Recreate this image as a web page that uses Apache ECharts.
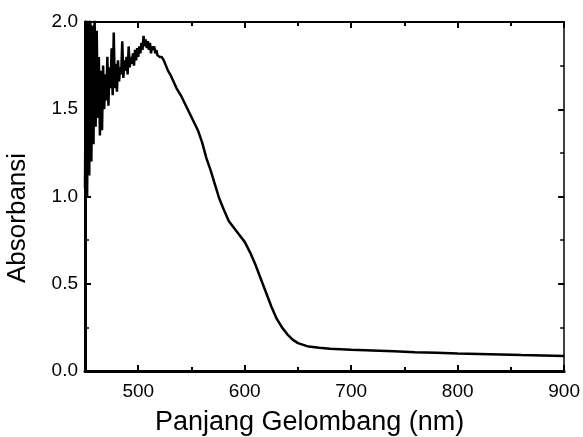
<!DOCTYPE html>
<html>
<head>
<meta charset="utf-8">
<script src="https://cdn.jsdelivr.net/npm/echarts@6/dist/echarts.min.js"></script>
<style>html,body{margin:0;padding:0;background:#fff}#c{width:583px;height:437px}</style>
</head>
<body>
<div id="c"></div>
<script>
var wavelength = [450,451,452,453,454,455,456,457,458,459,460,461,462,463,464,465,466,467,468,469,470,471,472,473,474,475,476,477,478,479,480,481,482,483,484,485,486,487,488,489,490,491,492,493,494,495,496,497,498,499,500,501,502,503,504,505,506,507,508,509,510,511,512,513,514,515,516,517,518,519,520,522,524,526,528,530,533,536,540,544,548,552,556,560,564,568,572,576,580,585,590,595,600,605,610,615,620,625,630,635,640,645,650,655,660,670,680,690,700,720,740,760,780,800,820,840,860,880,900];
var absorbance = [1.05,2.05,1.00,2.05,1.12,2.05,1.20,1.98,1.30,2.05,1.40,1.95,1.45,1.80,1.35,1.72,1.38,1.75,1.50,1.70,1.55,1.80,1.52,1.74,1.62,1.85,1.58,1.94,1.62,1.76,1.60,1.78,1.66,1.74,1.70,1.89,1.68,1.78,1.72,1.80,1.70,1.86,1.74,1.80,1.76,1.82,1.75,1.84,1.78,1.85,1.80,1.86,1.82,1.88,1.84,1.92,1.86,1.90,1.85,1.89,1.84,1.88,1.82,1.86,1.84,1.86,1.82,1.84,1.81,1.82,1.80,1.80,1.78,1.75,1.72,1.70,1.66,1.62,1.58,1.53,1.48,1.43,1.38,1.31,1.22,1.15,1.07,0.99,0.93,0.86,0.82,0.78,0.74,0.68,0.61,0.53,0.45,0.37,0.30,0.25,0.21,0.18,0.16,0.15,0.14,0.133,0.128,0.125,0.122,0.118,0.113,0.108,0.104,0.100,0.097,0.094,0.091,0.089,0.086];
var xMajorTicks = [500,600,700,800,900];
var xMinorTicks = [550,650,750,850];
var xTitle = 'Panjang Gelombang (nm)';
var yTitle = 'Absorbansi';

var chart = echarts.init(document.getElementById('c'), null, {renderer:'canvas'});
var data = wavelength.map(function(w,i){return [w, absorbance[i]];});
var font = 'Liberation Sans, Arial, sans-serif';
function xAx(pos, major, show, lw){
  return {
    type:'value', position:pos, min:450, max:900,
    axisLine:{show:show, onZero:false, lineStyle:{color:'#000', width:lw}},
    axisTick:{show:true, inside:true, length: major?6:4, customValues: major?xMajorTicks:xMinorTicks, lineStyle:{color:'#000', width:2}},
    axisLabel:{show: pos==='bottom' && major, customValues:xMajorTicks, color:'#000', fontSize:19, fontFamily:font, margin:11},
    splitLine:{show:false}
  };
}
function yAx(pos, lw){
  return {
    type:'value', position:pos, min:0, max:2, interval:0.5,
    axisLine:{show:true, onZero:false, lineStyle:{color:'#000', width:lw}},
    axisTick:{show:true, inside:true, length:6, lineStyle:{color:'#000', width:2}},
    minorTick:{show:true, splitNumber:2, length:4, lineStyle:{color:'#000', width:1.5}},
    axisLabel:{show: pos==='left', color:'#000', fontSize:19, fontFamily:font, margin:7, formatter:function(v){return v.toFixed(1);}},
    splitLine:{show:false}
  };
}
chart.setOption({
  animation:false,
  backgroundColor:'#fff',
  grid:{left:85, right:17, top:22, bottom:66, containLabel:false},
  xAxis:[xAx('bottom',true,true,3), xAx('bottom',false,false,0), xAx('top',true,true,2), xAx('top',false,false,0)],
  yAxis:[yAx('left',3), yAx('right',1.5)],
  graphic:[
    {type:'text', top:409, left:155, style:{text:xTitle, fontSize:27, fontFamily:font, fill:'#000'}},
    {type:'text', rotation:Math.PI/2, x:5, y:283, style:{text:yTitle, fontSize:26, fontFamily:font, fill:'#000'}}
  ],
  series:[{
    type:'line', data:data, showSymbol:false, clip:true,
    lineStyle:{color:'#000', width:2.5}, xAxisIndex:0, yAxisIndex:0
  }]
});
</script>
</body>
</html>
